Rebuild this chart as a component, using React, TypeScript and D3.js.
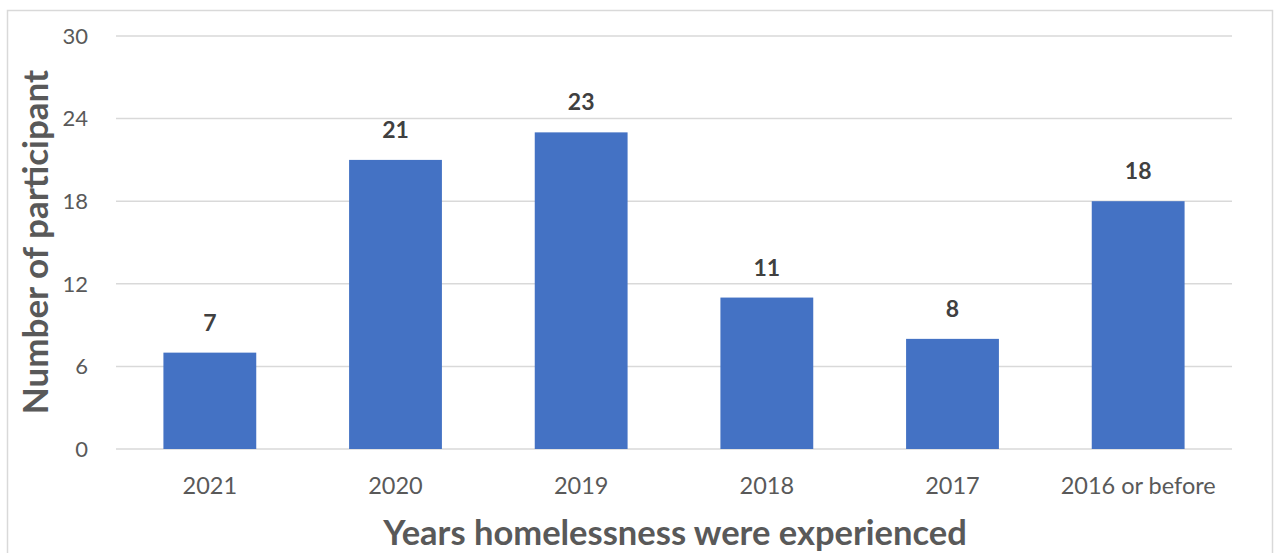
import React from "react";
import * as d3 from "d3";

const categories = ["2021", "2020", "2019", "2018", "2017", "2016 or before"];
const values = [7, 21, 23, 11, 8, 18];
const yTicks = [0, 6, 12, 18, 24, 30];

const W = 1274;
const H = 553;
const FONT = "Lato, 'Open Sans', sans-serif";

export default function App() {
  const x = d3.scaleBand<string>().domain(categories).range([117, 1231]).paddingInner(0.5).paddingOuter(0.25);
  const y = d3.scaleLinear().domain([0, 30]).range([449, 36]);

  return (
    <svg width={W} height={H} style={{ position: "absolute", left: 0, top: 0 }}>
      <rect x={0} y={0} width={W} height={H} fill="#fff" />
      <rect x={7.5} y={10.5} width={1265} height={560} fill="none" stroke="#d9d9d9" strokeWidth={1.5} />
      {yTicks.map((t) => (
        <g key={t}>
          <line x1={116} x2={1232} y1={y(t)} y2={y(t)} stroke="#d9d9d9" strokeWidth={1.5} />
          <text x={88} y={y(t)} dy="0.35em" textAnchor="end" fontFamily={FONT} fontSize={22} fill="#595959">
            {t}
          </text>
        </g>
      ))}
      {values.map((v, i) => {
        const c = categories[i];
        const bx = x(c)!;
        return (
          <g key={c}>
            <rect x={bx} y={y(v)} width={x.bandwidth()} height={y(0) - y(v)} fill="#4472c4" />
            <text x={bx + x.bandwidth() / 2} y={y(v) - 22} textAnchor="middle" fontFamily={FONT} fontWeight="bold" fontSize={23} fill="#404040">
              {v}
            </text>
            <text x={bx + x.bandwidth() / 2} y={494} textAnchor="middle" fontFamily={FONT} fontSize={23.5} fill="#595959">
              {c}
            </text>
          </g>
        );
      })}
      <text x={675} y={545} textAnchor="middle" fontFamily={FONT} fontWeight="bold" fontSize={34.5} fill="#595959">
        Years homelessness were experienced
      </text>
      <text transform="translate(48,242) rotate(-90)" textAnchor="middle" fontFamily={FONT} fontWeight="bold" fontSize={35} fill="#595959">
        Number of participant
      </text>
    </svg>
  );
}
